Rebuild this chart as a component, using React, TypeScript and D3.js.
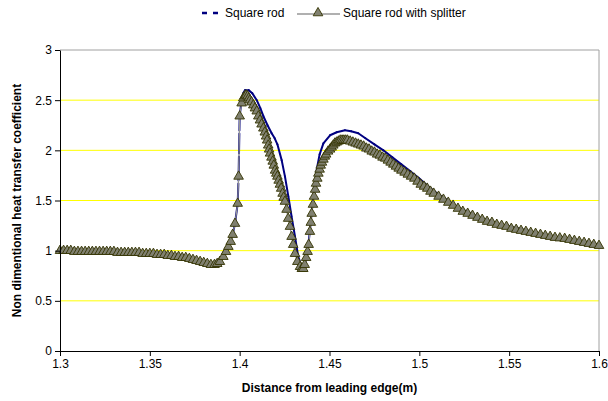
import React, { useRef, useEffect } from 'react';
import * as d3 from 'd3';

// Square rod with splitter (triangle markers)
const splitterDistance = [
  1.3, 1.302, 1.304, 1.306, 1.308, 1.31, 1.312, 1.314, 1.316, 1.318, 1.32, 1.322, 1.324, 1.326, 1.328,
  1.33, 1.332, 1.334, 1.336, 1.338, 1.34, 1.342, 1.344, 1.346, 1.348, 1.35, 1.352, 1.354, 1.356, 1.358,
  1.36, 1.362, 1.364, 1.366, 1.368, 1.37, 1.372, 1.374, 1.376, 1.378, 1.38, 1.382, 1.384, 1.386, 1.3875,
  1.389, 1.3909, 1.3924, 1.3937, 1.395, 1.3961, 1.3974, 1.3989, 1.3994, 1.4, 1.4011, 1.402, 1.4028, 1.4036,
  1.4044, 1.4051, 1.4057, 1.4066, 1.4076, 1.4085, 1.4095, 1.4104, 1.4113, 1.4122, 1.4132, 1.414, 1.4147,
  1.4153, 1.4159, 1.4164, 1.4169, 1.4177, 1.4184, 1.419, 1.4197, 1.4204, 1.421, 1.4217, 1.4224, 1.4231,
  1.4239, 1.4245, 1.4252, 1.4261, 1.427, 1.428, 1.4289, 1.4298, 1.4308, 1.4321, 1.4336, 1.4346, 1.4354,
  1.4362, 1.437, 1.4378, 1.4384, 1.4391, 1.4396, 1.4401, 1.4408, 1.4414, 1.442, 1.4425, 1.4432, 1.4438,
  1.4445, 1.4451, 1.4458, 1.4466, 1.4474, 1.4481, 1.4492, 1.4503, 1.4512, 1.4521, 1.453, 1.454, 1.455,
  1.456, 1.457, 1.458, 1.459, 1.46, 1.4615, 1.463, 1.4645, 1.466, 1.4675, 1.469, 1.4705, 1.472, 1.4735,
  1.475, 1.4765, 1.478, 1.4795, 1.481, 1.4825, 1.484, 1.4855, 1.487, 1.4885, 1.49, 1.4918, 1.4936, 1.4954,
  1.4972, 1.499, 1.5008, 1.5026, 1.5044, 1.5062, 1.508, 1.5107, 1.5134, 1.5161, 1.5188, 1.5215, 1.5242,
  1.5269, 1.5296, 1.5323, 1.535, 1.5377, 1.5404, 1.5431, 1.5458, 1.5485, 1.5512, 1.5539, 1.5566, 1.5593,
  1.562, 1.5647, 1.5674, 1.5701, 1.5728, 1.5755, 1.5782, 1.5809, 1.5836, 1.5863, 1.589, 1.5917, 1.5944,
  1.5971, 1.6,
];
const splitterCoeff = [
  1.0, 1.0, 1.0, 1.0, 0.99, 0.99, 0.99, 0.99, 0.99, 0.99, 0.99, 0.99, 0.99, 0.99, 0.99,
  0.99, 0.98, 0.98, 0.98, 0.98, 0.98, 0.98, 0.98, 0.97, 0.97, 0.97, 0.97, 0.96, 0.96, 0.96,
  0.95, 0.95, 0.94, 0.94, 0.93, 0.93, 0.92, 0.91, 0.9, 0.89, 0.88, 0.87, 0.86, 0.86, 0.87,
  0.89, 0.94, 0.99, 1.04, 1.09, 1.16, 1.27, 1.47, 1.74, 2.34, 2.47, 2.52, 2.54, 2.55,
  2.54, 2.52, 2.5, 2.48, 2.45, 2.42, 2.39, 2.34, 2.3, 2.26, 2.22, 2.18, 2.14,
  2.1, 2.05, 2.01, 1.97, 1.93, 1.89, 1.85, 1.8, 1.77, 1.74, 1.7, 1.66, 1.62,
  1.57, 1.53, 1.49, 1.41, 1.32, 1.24, 1.14, 1.06, 0.97, 0.89, 0.84, 0.82, 0.82,
  0.86, 0.93, 0.99, 1.06, 1.19, 1.28, 1.37, 1.46, 1.54, 1.61, 1.67, 1.72, 1.77,
  1.81, 1.85, 1.88, 1.91, 1.94, 1.96, 1.99, 2.01, 2.03, 2.05, 2.07, 2.08, 2.09,
  2.1, 2.1, 2.1, 2.1, 2.1, 2.09, 2.08, 2.07, 2.06, 2.05, 2.04, 2.02, 2.01, 1.99,
  1.98, 1.96, 1.95, 1.93, 1.92, 1.9, 1.88, 1.86, 1.84, 1.82, 1.8, 1.78, 1.76, 1.74,
  1.72, 1.69, 1.66, 1.64, 1.62, 1.59, 1.57, 1.54, 1.51, 1.48, 1.45, 1.42, 1.39,
  1.37, 1.35, 1.33, 1.31, 1.29, 1.28, 1.26, 1.25, 1.24, 1.22, 1.21, 1.2, 1.19,
  1.18, 1.17, 1.16, 1.15, 1.14, 1.13, 1.125, 1.12, 1.11, 1.1, 1.09, 1.08, 1.07,
  1.06, 1.05,
];

// Square rod (dashed navy line)
const squareDistance = [
  1.3, 1.32, 1.34, 1.35, 1.36, 1.37, 1.376, 1.38, 1.384, 1.387, 1.389, 1.391, 1.3937, 1.3961, 1.3974,
  1.3989, 1.3994, 1.4, 1.4011, 1.402, 1.403, 1.405, 1.407, 1.4095, 1.4115, 1.4132, 1.4155, 1.4178, 1.4195,
  1.421, 1.4234, 1.4252, 1.4271, 1.4289, 1.4308, 1.4326, 1.4345, 1.4355, 1.4365, 1.438, 1.4392, 1.4403,
  1.4415, 1.443, 1.4445, 1.4466, 1.4503, 1.454, 1.4586, 1.462, 1.466, 1.47, 1.475, 1.48, 1.485, 1.49,
  1.495, 1.5, 1.505, 1.51, 1.515, 1.52, 1.525, 1.53, 1.535, 1.54, 1.545, 1.55, 1.555, 1.56, 1.565, 1.57,
  1.575, 1.58, 1.585, 1.59, 1.595, 1.6,
];
const squareCoeff = [
  1.0, 0.99, 0.98, 0.97, 0.95, 0.93, 0.9, 0.88, 0.86, 0.86, 0.89, 0.94, 1.04, 1.16, 1.27,
  1.47, 1.74, 2.34, 2.5, 2.57, 2.6, 2.6, 2.57, 2.5, 2.42, 2.34, 2.25, 2.17, 2.12,
  2.06, 1.9, 1.74, 1.54, 1.34, 1.14, 0.94, 0.84, 0.83, 0.88, 1.02, 1.22, 1.42,
  1.62, 1.82, 1.96, 2.07, 2.15, 2.18, 2.2, 2.19, 2.17, 2.12, 2.06, 2.0, 1.93, 1.86,
  1.79, 1.72, 1.64, 1.57, 1.51, 1.45, 1.4, 1.36, 1.32, 1.29, 1.26, 1.24, 1.22, 1.2, 1.18, 1.16,
  1.14, 1.13, 1.11, 1.09, 1.08, 1.06,
];

const xTicks = [1.3, 1.35, 1.4, 1.45, 1.5, 1.55, 1.6];
const yTicks = [0, 0.5, 1, 1.5, 2, 2.5, 3];
const seriesNames = ['Square rod', 'Square rod with splitter'];

const FONT = '"Liberation Sans", Arial, sans-serif';

const App = () => {
  const svgRef = useRef<SVGSVGElement>(null);

  useEffect(() => {
    const svg = d3.select(svgRef.current);
    svg.selectAll('*').remove();

    // plot area bounds
    const left = 60;
    const right = 599;
    const top = 50;
    const bottom = 351;

    const xScale = d3.scaleLinear().domain([1.3, 1.6]).range([left, right]);
    const yScale = d3.scaleLinear().domain([0, 3]).range([bottom, top]);

    // yellow gridlines
    svg
      .append('g')
      .selectAll('line')
      .data(yTicks.filter((t) => t > 0 && t < 3))
      .join('line')
      .attr('x1', left)
      .attr('x2', right)
      .attr('y1', (d) => yScale(d))
      .attr('y2', (d) => yScale(d))
      .attr('stroke', '#ffff00')
      .attr('stroke-width', 1);

    // grey top/right border of plot area
    svg
      .append('path')
      .attr('d', `M${left},${yScale(3)}H${right}V${bottom}`)
      .attr('fill', 'none')
      .attr('stroke', '#a0a0a0')
      .attr('stroke-width', 1);

    // square rod: dashes restart on each segment, so short segments look solid
    const squarePts: [number, number][] = squareDistance.map((d, i) => [xScale(d), yScale(squareCoeff[i])]);
    svg
      .append('g')
      .selectAll('line')
      .data(d3.pairs(squarePts))
      .join('line')
      .attr('x1', (p) => p[0][0])
      .attr('y1', (p) => p[0][1])
      .attr('x2', (p) => p[1][0])
      .attr('y2', (p) => p[1][1])
      .attr('stroke', '#000080')
      .attr('stroke-width', 2)
      .attr('stroke-linecap', 'round')
      .attr('stroke-dasharray', '20,3');

    // splitter line + triangle markers
    const splitterPts: [number, number][] = splitterDistance.map((d, i) => [xScale(d), yScale(splitterCoeff[i])]);
    svg
      .append('path')
      .datum(splitterPts)
      .attr('d', d3.line())
      .attr('fill', 'none')
      .attr('stroke', '#969696')
      .attr('stroke-width', 1.2);

    const triangle = d3.symbol(d3.symbolTriangle, 40)();
    svg
      .append('g')
      .selectAll('path')
      .data(splitterPts)
      .join('path')
      .attr('transform', (p) => `translate(${p[0]},${p[1]})`)
      .attr('d', triangle)
      .attr('fill', '#808070')
      .attr('stroke', '#333300')
      .attr('stroke-width', 0.9);

    // axes
    const xAxisGroup = svg
      .append('g')
      .attr('transform', `translate(0, ${bottom})`)
      .call(
        d3
          .axisBottom(xScale)
          .tickValues(xTicks)
          .tickSize(5)
          .tickSizeOuter(0)
          .tickFormat((d) => String(d))
      );
    xAxisGroup.attr('font-family', FONT).attr('font-size', 12);
    xAxisGroup.selectAll('text').attr('fill', '#000');

    const yAxisGroup = svg
      .append('g')
      .attr('transform', `translate(${left}, 0)`)
      .call(
        d3
          .axisLeft(yScale)
          .tickValues(yTicks)
          .tickSize(5)
          .tickSizeOuter(0)
          .tickFormat((d) => String(d))
      );
    yAxisGroup.attr('font-family', FONT).attr('font-size', 12);
    yAxisGroup.selectAll('text').attr('fill', '#000');

    // axis titles
    svg
      .append('text')
      .attr('x', (left + right) / 2)
      .attr('y', 392)
      .attr('text-anchor', 'middle')
      .attr('font-family', FONT)
      .attr('font-size', 12)
      .attr('font-weight', 'bold')
      .text('Distance from leading edge(m)');

    svg
      .append('text')
      .attr('transform', `translate(21, ${(top + bottom) / 2}) rotate(-90)`)
      .attr('text-anchor', 'middle')
      .attr('font-family', FONT)
      .attr('font-size', 12)
      .attr('font-weight', 'bold')
      .text('Non dimentional heat transfer coefficient');

    // legend
    const legend = svg.append('g').attr('font-family', FONT).attr('font-size', 12);
    legend
      .append('line')
      .attr('x1', 202)
      .attr('x2', 219)
      .attr('y1', 13)
      .attr('y2', 13)
      .attr('stroke', '#000080')
      .attr('stroke-width', 2.5)
      .attr('stroke-dasharray', '5,6');
    legend.append('text').attr('x', 225).attr('y', 17).text(seriesNames[0]);

    legend
      .append('line')
      .attr('x1', 297)
      .attr('x2', 340)
      .attr('y1', 14)
      .attr('y2', 14)
      .attr('stroke', '#969696')
      .attr('stroke-width', 1.5);
    legend
      .append('path')
      .attr('transform', 'translate(318, 13)')
      .attr('d', triangle)
      .attr('fill', '#808070')
      .attr('stroke', '#333300')
      .attr('stroke-width', 0.9);
    legend.append('text').attr('x', 343).attr('y', 17).text(seriesNames[1]);
  }, []);

  return (
    <svg
      ref={svgRef}
      width={608}
      height={401}
      style={{ position: 'absolute', left: 0, top: 0, background: '#fff' }}
    />
  );
};

export default App;
